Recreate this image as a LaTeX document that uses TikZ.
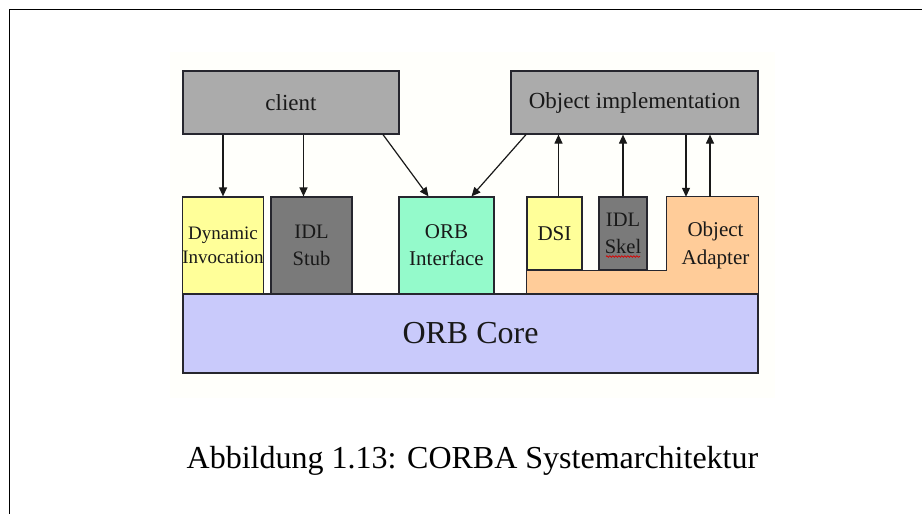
\documentclass[tikz,border=0pt]{standalone}
\usepackage{fontspec}
\setmainfont{Liberation Serif}
\usetikzlibrary{arrows.meta,calc,decorations.pathmorphing}

\definecolor{boxgray}{HTML}{ABABAB}
\definecolor{stubgray}{HTML}{7A7A7A}
\definecolor{lightyellow}{HTML}{FFFF99}
\definecolor{aqua}{HTML}{94FACB}
\definecolor{peach}{HTML}{FFCC99}
\definecolor{lavender}{HTML}{C9CAFB}
\definecolor{edge}{HTML}{26262E}
\definecolor{paper}{HTML}{FFFFFB}

\tikzset{
  block/.style={draw=edge, line width=1.2pt, inner sep=0pt, align=center,
                text=black!90},
  arr/.style={draw=black!90, line width=1.2pt,
              -{Triangle[length=9pt,width=8pt]}},
}

\begin{document}
\begin{tikzpicture}[x=1pt,y=-1pt]
  \useasboundingbox (0,0) rectangle (922,514);

  % page frame
  \draw[line width=1.5pt] (9.5,514) -- (9.5,9.5) -- (922,9.5);

  % faint paper tone of the figure area
  \fill[paper] (170,52) rectangle (775,398);

  % top row
  \node[block, fill=boxgray, minimum width=216pt, minimum height=63pt,
        font=\fontsize{23}{27}\selectfont] (client) at (291,102.5) {client};
  \node[block, fill=boxgray, minimum width=247pt, minimum height=63pt,
        font=\fontsize{23}{27}\selectfont] (impl) at (634.5,102.5) {Object implementation};

  % object adapter (L-shaped, reaching under DSI and skeleton)
  \node[inner sep=0pt, minimum width=91pt, minimum height=97pt] (adapter) at (712.5,245.5) {};
  \node[inner sep=0pt, minimum width=55pt, minimum height=73pt] (dsiarea) at (554.5,233.5) {};
  \filldraw[fill=peach, draw=edge, line width=1.2pt]
    (adapter.south -| dsiarea.west) -- (dsiarea.south west)
    -- (dsiarea.south -| adapter.west) -- (adapter.north west)
    -- (adapter.north east) -- (adapter.south east) -- cycle;
  \node[align=center, inner sep=0pt, text=black!90,
        font=\fontsize{21}{27.5}\selectfont] (adaptertext) at (715.5,245.5) {Object\\Adapter};

  % middle row
  \node[block, fill=lightyellow, minimum width=80pt, minimum height=97pt,
        font=\fontsize{19}{24}\selectfont] (dyn) at (223,245.5) {Dynamic\\Invocation};
  \node[block, fill=stubgray, minimum width=81pt, minimum height=97pt,
        font=\fontsize{20.5}{27}\selectfont] (stub) at (311.5,245.5) {IDL\\Stub};
  \node[block, fill=aqua, minimum width=95pt, minimum height=97pt,
        font=\fontsize{21}{27}\selectfont] (orbi) at (446.5,245.5) {ORB\\Interface};
  \node[block, fill=lightyellow, minimum width=55pt, minimum height=73pt,
        font=\fontsize{21}{27}\selectfont] (dsi) at (554.5,233.5) {DSI};
  \node[block, fill=stubgray, minimum width=48pt, minimum height=73pt,
        font=\fontsize{20.5}{27}\selectfont] (skel) at (623,233.5) {IDL\\Skel};

  % spell-check squiggle under "Skel"
  \draw[red!85!black, line width=0.7pt,
        decorate, decoration={snake, segment length=3pt, amplitude=0.8pt}]
    ($(skel.center)+(-17,23)$) -- ($(skel.center)+(17,23)$);

  % ORB core
  \node[block, fill=lavender, minimum width=575pt, minimum height=79pt,
        font=\fontsize{32}{36}\selectfont] (core) at (470.5,333.5) {ORB Core};

  % client side connectors
  \draw[arr] (client.south -| dyn.north) -- (dyn.north);
  \coordinate (stubin) at ([xshift=-8pt]stub.north);
  \draw[arr] (client.south -| stubin) -- (stubin);
  \draw[arr] ([xshift=92pt]client.south) -- ([xshift=-18pt]orbi.north);

  % implementation side connectors
  \draw[arr] ([xshift=-108.5pt]impl.south) -- ([xshift=25pt]orbi.north);
  \coordinate (dsiout) at ([xshift=4pt]dsi.north);
  \draw[arr] (dsiout) -- (impl.south -| dsiout);
  \draw[arr] (skel.north) -- (impl.south -| skel.north);
  \coordinate (adin) at ([xshift=-26.5pt]adapter.north);
  \draw[arr] (impl.south -| adin) -- (adin);
  \coordinate (adout) at ([xshift=-2.5pt]adapter.north);
  \draw[arr] (adout) -- (impl.south -| adout);

  % caption
  \node[anchor=base, inner sep=0pt, font=\fontsize{32}{36}\selectfont] (caption)
    at (472.5,468) {Abbildung 1.13: CORBA Systemarchitektur};
\end{tikzpicture}
\end{document}
